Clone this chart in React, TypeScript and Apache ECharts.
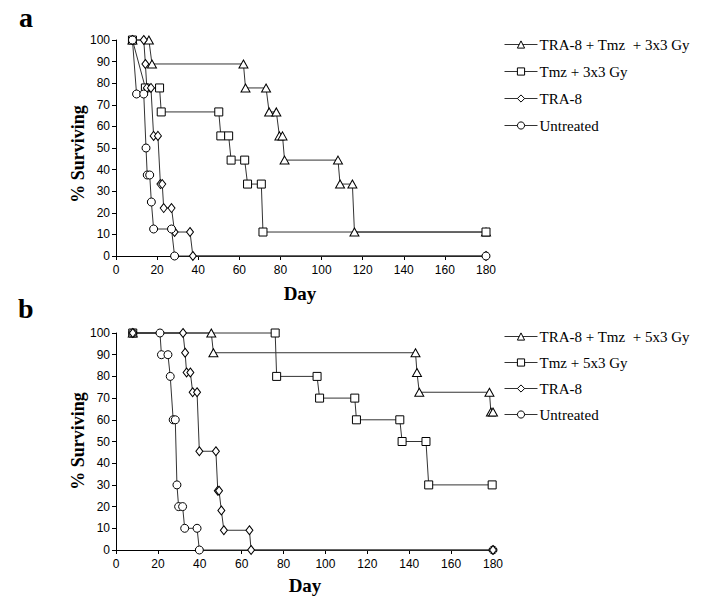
import React, { useEffect, useRef } from "react";
import * as echarts from "echarts";

// Panel a series: [day, % surviving]
const triA = [[8,100],[16,100],[17.5,88.9],[62,88.9],[63,77.8],[73,77.8],[74.5,66.7],[78,66.7],[79.5,55.6],[81,55.6],[82,44.4],[108,44.4],[109,33.3],[115,33.3],[116,11.1],[180,11.1]];
const sqA = [[8,100],[14.3,77.8],[21.2,77.8],[22,66.7],[50,66.7],[51,55.6],[54.8,55.6],[56,44.4],[62.6,44.4],[64,33.3],[70.7,33.3],[71.5,11.1],[180,11.1]];
const diaA = [[8,100],[13.5,100],[14.3,88.9],[15,77.8],[17,77.8],[18.3,55.6],[20.4,55.6],[21.6,33.3],[22.5,33.3],[23.2,22.2],[27,22.2],[28.5,11.1],[36,11.1],[37.4,0],[180,0]];
const cirA = [[8,100],[10,75],[13.5,75],[14.6,50],[15.2,37.5],[16.4,37.5],[17.2,25],[18.3,12.5],[27,12.5],[28.5,0],[180,0]];

// Panel b series
const triB = [[8,100],[45.5,100],[46.5,90.9],[143,90.9],[143.7,81.8],[144.8,72.7],[178.3,72.7],[179,63.6],[180,63.6]];
const sqB = [[8,100],[76,100],[76.7,80],[96,80],[97.2,70],[114,70],[114.8,60],[135.5,60],[136.6,50],[148,50],[149.3,30],[179.6,30]];
const cirB = [[8,100],[21,100],[21.7,90],[24.8,90],[25.9,80],[27.3,60],[28.3,60],[29.1,30],[29.9,20],[31.8,20],[32.8,10],[38.7,10],[39.8,0],[180,0]];
const diaB = [[8,100],[32,100],[33,90.9],[33.7,81.8],[35.5,81.8],[36.6,72.7],[38.7,72.7],[39.8,45.5],[47.7,45.5],[48.6,27.3],[49.2,27.3],[50.3,18.2],[51.5,9.1],[63.7,9.1],[64.5,0],[180,0]];

const namesA = ["TRA-8 + Tmz  + 3x3 Gy", "Tmz + 3x3 Gy", "TRA-8", "Untreated"];
const namesB = ["TRA-8 + Tmz  + 5x3 Gy", "Tmz + 5x3 Gy", "TRA-8", "Untreated"];
const panelLabels = ["a", "b"];
const yTitle = "% Surviving";
const xTitle = "Day";

const SANS = "'Liberation Sans', Arial, sans-serif";
const SERIF = "'Liberation Serif', 'Times New Roman', serif";

const symTri = { symbol: "triangle", symbolSize: [9, 8] };
const symSq = { symbol: "rect", symbolSize: [8, 8] };
const symDia = { symbol: "diamond", symbolSize: [7, 9] };
const symCir = { symbol: "circle", symbolSize: 8 };

function mkSeries(name: string, data: number[][], sym: any, idx: number) {
  return {
    type: "line",
    name,
    data,
    xAxisIndex: idx,
    yAxisIndex: idx,
    ...sym,
    showAllSymbol: true,
    clip: false,
    lineStyle: { color: "#333", width: 1 },
    itemStyle: { color: "#fff", borderColor: "#000", borderWidth: 1 },
    emphasis: { disabled: true },
  };
}

function mkXAxis(idx: number) {
  return {
    type: "value",
    gridIndex: idx,
    min: 0,
    max: 180,
    interval: 20,
    splitLine: { show: false },
    axisLine: { show: true, lineStyle: { color: "#000", width: 1 } },
    axisTick: { show: true, length: 4, lineStyle: { color: "#000" } },
    axisLabel: { color: "#000", fontFamily: SANS, fontSize: 12, margin: 8 },
  };
}
function mkYAxis(idx: number) {
  return {
    type: "value",
    gridIndex: idx,
    min: 0,
    max: 100,
    interval: 10,
    splitLine: { show: false },
    axisLine: { show: true, lineStyle: { color: "#000", width: 1 } },
    axisTick: { show: true, length: 4, lineStyle: { color: "#000" } },
    axisLabel: { color: "#000", fontFamily: SANS, fontSize: 12, margin: 6 },
  };
}

function mkLegend(data: string[], top: number, gap: number) {
  return {
    data,
    orient: "vertical",
    left: 504,
    top,
    padding: 0,
    itemWidth: 33,
    itemHeight: 9,
    itemGap: gap,
    selectedMode: false,
    lineStyle: { color: "#333", width: 1 },
    itemStyle: { color: "#fff", borderColor: "#000", borderWidth: 1 },
    textStyle: { color: "#000", fontFamily: SERIF, fontSize: 15, lineHeight: 15, padding: [0, 0, 0, -3] },
  };
}

export default function App() {
  const ref = useRef<HTMLDivElement>(null);
  useEffect(() => {
    if (!ref.current) return;
    const chart = echarts.init(ref.current, undefined, { renderer: "svg" });
    const option: any = {
      animation: false,
      backgroundColor: "#fff",
      grid: [
        { left: 116, top: 40, width: 370, height: 216 },
        { left: 116, top: 333, width: 377, height: 217 },
      ],
      xAxis: [mkXAxis(0), mkXAxis(1)],
      yAxis: [mkYAxis(0), mkYAxis(1)],
      legend: [mkLegend(namesA, 37, 12), mkLegend(namesB, 329, 11)],
      series: [
        mkSeries(namesA[0], triA, symTri, 0),
        mkSeries(namesA[1], sqA, symSq, 0),
        mkSeries(namesA[2], diaA, symDia, 0),
        mkSeries(namesA[3], cirA, symCir, 0),
        mkSeries(namesB[0], triB, symTri, 1),
        mkSeries(namesB[1], sqB, symSq, 1),
        mkSeries(namesB[3], cirB, symCir, 1),
        mkSeries(namesB[2], diaB, symDia, 1),
      ],
      graphic: [
        { type: "text", left: 19, top: 3, style: { text: panelLabels[0], font: `bold 28px ${SERIF}`, fill: "#000" } },
        { type: "text", left: 18, top: 294, style: { text: panelLabels[1], font: `bold 28px ${SERIF}`, fill: "#000" } },
        { type: "text", x: 78, y: 154, rotation: Math.PI / 2, style: { text: yTitle, font: `bold 18px ${SERIF}`, fill: "#000", align: "center", verticalAlign: "middle" } },
        { type: "text", x: 78, y: 441, rotation: Math.PI / 2, style: { text: yTitle, font: `bold 18px ${SERIF}`, fill: "#000", align: "center", verticalAlign: "middle" } },
        { type: "text", x: 300, y: 293, style: { text: xTitle, font: `bold 19px ${SERIF}`, fill: "#000", align: "center", verticalAlign: "middle" } },
        { type: "text", x: 305, y: 585, style: { text: xTitle, font: `bold 19px ${SERIF}`, fill: "#000", align: "center", verticalAlign: "middle" } },
      ],
    };
    chart.setOption(option);
    return () => chart.dispose();
  }, []);
  return <div ref={ref} style={{ position: "fixed", left: 0, top: 0, width: 712, height: 601, background: "#fff" }} />;
}
